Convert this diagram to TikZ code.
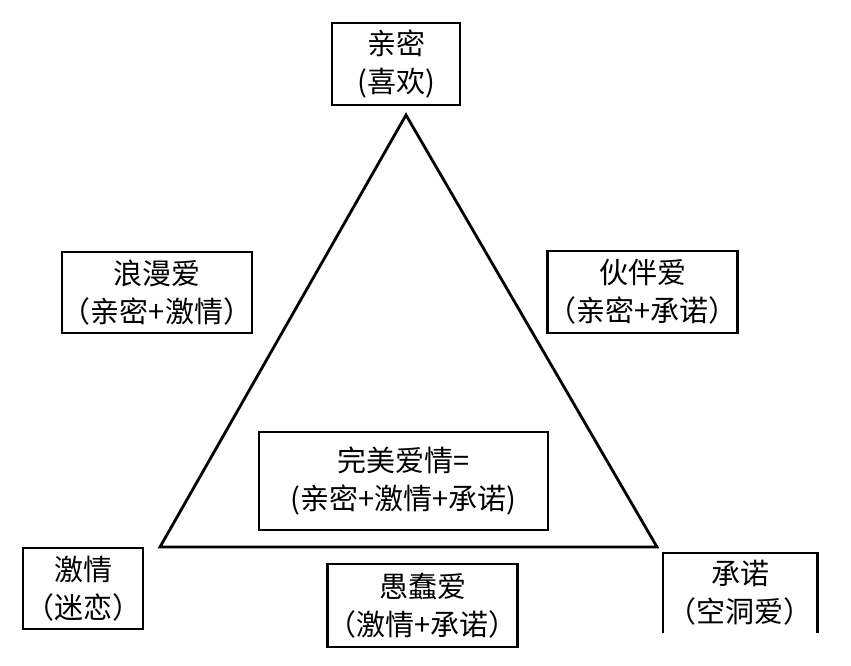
\documentclass[tikz,border=0pt]{standalone}
\usepackage{fontspec}
\setmainfont{Noto Sans CJK SC}
\begin{document}
\begin{tikzpicture}[x=1pt,y=-1pt,
  box/.style={draw,line width=2.6pt,inner sep=0pt,align=center,font=\fontsize{29}{38}\selectfont},
  openbox/.style={inner sep=0pt,align=center,font=\fontsize{29}{38}\selectfont},
  edge/.style={line width=2.8pt,line join=miter}]
\useasboundingbox (0,0) rectangle (851,666);
\coordinate (apex) at (406,115);
\coordinate (bl) at (160,547);
\coordinate (br) at (657,547);
\draw[edge] (apex) -- (bl) -- (br) -- cycle;
\node[box,minimum width=128pt,minimum height=82pt] (top) at (396,64) {亲密\\(喜欢)};
\node[box,minimum width=188pt,minimum height=81pt] (roman) at (157,292.5) {浪漫爱\\（亲密+激情）};
\node[box,minimum width=189pt,minimum height=82pt] (comp) at (642.5,292) {伙伴爱\\（亲密+承诺）};
\node[box,minimum width=289pt,minimum height=98pt] (perfect) at (403.5,481) {完美爱情=\\(亲密+激情+承诺)};
\node[box,minimum width=189pt,minimum height=83pt] (fatuous) at (422.5,605.5) {愚蠢爱\\（激情+承诺）};
\node[box,minimum width=120pt,minimum height=81pt] (passion) at (83,588.5) {激情\\（迷恋）};
\node[openbox,minimum width=154pt,minimum height=80pt] (commit) at (740,593) {承诺\\（空洞爱）};
\draw[line width=2.6pt] (commit.south west) -- (commit.north west) -- (commit.north east) -- (commit.south east);
\end{tikzpicture}
\end{document}
